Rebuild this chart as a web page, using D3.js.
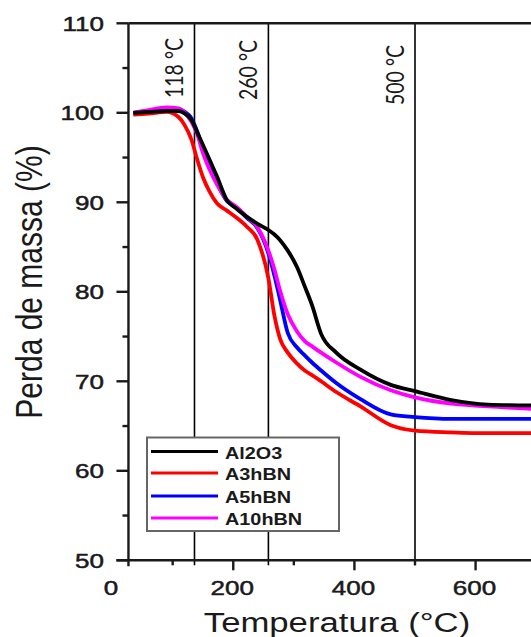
<!DOCTYPE html>
<html><head><meta charset="utf-8">
<script src="https://cdn.jsdelivr.net/npm/d3@7"></script>
<style>html,body{margin:0;padding:0;background:#fff;overflow:hidden}</style>
</head><body>
<svg id="c" width="531" height="637"></svg>
<script>
// ---- data ----
const temps = [35,60,90,110,120,131,140,150,160,173,189,205,222,240,258,268,277,290,305,318,330,345,370,410,460,500,560,620,700];
const al2o3  = [100.0,100.1,100.2,100.2,99.9,99.2,97.9,96.4,94.9,92.9,90.3,89.3,88.4,87.6,86.9,86.4,85.8,84.6,82.8,80.6,78.5,75.3,73.2,71.3,69.6,68.9,67.9,67.4,67.3];
const a3hbn  = [99.8,99.9,100.1,99.5,98.6,97.0,94.9,92.8,91.3,89.9,89.1,88.3,87.3,85.8,81.5,77.3,74.8,73.2,72.0,71.2,70.7,70.0,68.8,67.2,65.1,64.5,64.3,64.2,64.2];
const a5hbn  = [100.0,100.2,100.4,100.4,100.1,99.4,98.0,96.0,94.3,92.2,90.2,89.4,88.3,87.1,84.3,81.8,79.2,75.4,73.8,72.9,72.1,71.2,69.8,68.0,66.3,66.0,65.8,65.8,65.8];
const a10hbn = [100.0,100.3,100.6,100.5,100.0,99.0,97.7,95.5,93.8,92.0,90.3,89.5,88.4,87.2,84.6,82.5,80.2,77.5,75.6,74.5,73.9,73.2,72.1,70.5,69.0,68.2,67.5,67.2,66.9];
const seriesNames = ["Al2O3","A3hBN","A5hBN","A10hBN"];
const seriesColors = ["#000000","#ff0000","#0000ff","#ff00ff"];
const seriesValues = [al2o3, a3hbn, a5hbn, a10hbn];
const xTickValues = [0,200,400,600];
const xMinorTicks = [100,300,500,700];
const yTickValues = [50,60,70,80,90,100,110];
const yMinorTicks = [55,65,75,85,95,105];
const vLineTemps = [136,258,500];
const vLineLabels = ["118 °C","260 °C","500 °C"];
const xTitle = "Temperatura (°C)";
const yTitle = "Perda de massa (%)";

// ---- layout ----
const SX = 1.24;
const svg = d3.select("#c");
const x = d3.scaleLinear().domain([0,700]).range([112.1, 112.1+700*0.6058]);
const y = d3.scaleLinear().domain([50,110]).range([560.3, 23.3]);
const x0 = x(27), ink = "#1a1a1a";

// vertical reference lines
svg.append("g").selectAll("line").data(vLineTemps).join("line")
  .attr("x1", d=>x(d)).attr("x2", d=>x(d)).attr("y1", y(110)).attr("y2", y(50)+5)
  .attr("stroke","#000").attr("stroke-width",1.6);
svg.append("g").selectAll("text").data(vLineTemps).join("text")
  .attr("transform",(d,i)=>`translate(${x(d)-11},${[98,100,105][i]}) scale(${SX},1) rotate(-90)`)
  .attr("font-family","Lato, 'Open Sans', sans-serif").attr("font-size",19.5).attr("fill",ink)
  .text((d,i)=>vLineLabels[i]);

// curves
const line = d3.line().x((d,i)=>x(temps[i])).y(d=>y(d)).curve(d3.curveMonotoneX);
const order = [1,2,3,0];
svg.append("g").selectAll("path").data(order).join("path")
  .attr("d", k=>line(seriesValues[k])).attr("fill","none")
  .attr("stroke", k=>seriesColors[k]).attr("stroke-width",3.8).attr("stroke-linejoin","round");

// axes
const ax = svg.append("g").attr("stroke",ink).attr("stroke-width",2.4);
ax.append("line").attr("x1",x0).attr("x2",531).attr("y1",y(110)).attr("y2",y(110));
ax.append("line").attr("x1",x0).attr("x2",x0).attr("y1",y(110)).attr("y2",y(50)+6);
ax.append("line").attr("x1",x0-12).attr("x2",531).attr("y1",y(50)).attr("y2",y(50));
ax.selectAll(".ym").data(yTickValues).join("line").attr("x1",x0-12).attr("x2",x0).attr("y1",d=>y(d)).attr("y2",d=>y(d));
ax.selectAll(".yn").data(yMinorTicks).join("line").attr("x1",x0-6).attr("x2",x0).attr("y1",d=>y(d)).attr("y2",d=>y(d));
ax.selectAll(".xm").data(xTickValues.filter(d=>d>=27)).join("line").attr("x1",d=>x(d)).attr("x2",d=>x(d)).attr("y1",y(50)).attr("y2",y(50)+10);
ax.selectAll(".xn").data(xMinorTicks).join("line").attr("x1",d=>x(d)).attr("x2",d=>x(d)).attr("y1",y(50)).attr("y2",y(50)+5);

const font = "'Liberation Sans', Arial, sans-serif";
svg.append("g").selectAll("text").data(yTickValues).join("text")
  .attr("transform",d=>`translate(104,${y(d)+7.5}) scale(${SX},1)`)
  .attr("text-anchor","end").attr("font-family",font).attr("font-size",21).attr("fill",ink)
  .attr("stroke",ink).attr("stroke-width",0.5).text(d=>d);
svg.append("g").selectAll("text").data(xTickValues).join("text")
  .attr("transform",d=>`translate(${x(d)-1},595) scale(${SX},1)`)
  .attr("text-anchor","middle").attr("font-family",font).attr("font-size",21).attr("fill",ink)
  .attr("stroke",ink).attr("stroke-width",0.5).text(d=>d);
svg.append("text").attr("transform",`translate(337,632) scale(${SX},1)`)
  .attr("text-anchor","middle").attr("font-family",font).attr("font-size",28).attr("fill",ink).text(xTitle);
svg.append("text").attr("transform",`translate(42,282) scale(${SX},1) rotate(-90)`)
  .attr("text-anchor","middle").attr("font-family",font).attr("font-size",30).attr("fill",ink).text(yTitle);

// legend
const lg = svg.append("g");
lg.append("rect").attr("x",147).attr("y",437.5).attr("width",192).attr("height",93.5)
  .attr("fill","#fff").attr("stroke","#666").attr("stroke-width",2);
const rowY = [451.5,473,496,518];
const ent = lg.selectAll("g").data(seriesNames).join("g");
ent.append("line").attr("x1",151).attr("x2",218).attr("y1",(d,i)=>rowY[i]).attr("y2",(d,i)=>rowY[i])
  .attr("stroke",(d,i)=>seriesColors[i]).attr("stroke-width",3);
ent.append("text").attr("transform",(d,i)=>`translate(225,${rowY[i]+7}) scale(${SX},1)`)
  .attr("font-family",font).attr("font-weight","bold").attr("font-size",16).attr("fill",ink).text(d=>d);
</script>
</body></html>
